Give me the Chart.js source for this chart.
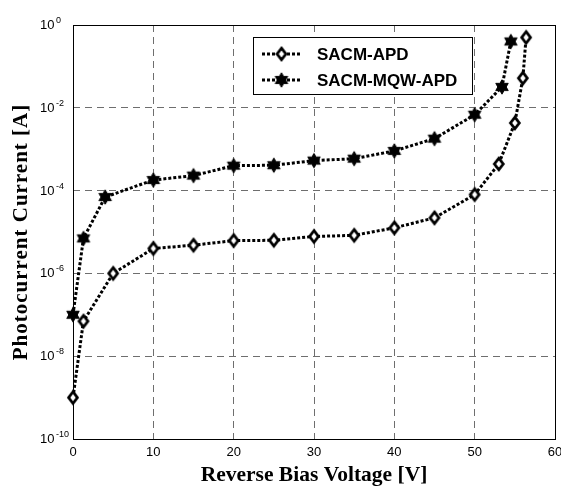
<!DOCTYPE html>
<html><head><meta charset="utf-8">
<script src="https://cdn.jsdelivr.net/npm/chart.js@4/dist/chart.umd.min.js"></script>
<style>html,body{margin:0;padding:0;background:#fff}#wrap{width:561px;height:488px;position:relative}</style>
</head><body><div id="wrap"><canvas id="c" width="561" height="488"></canvas></div>
<script>
// ---- data ----
const apdVoltage = [0, 1.3, 5, 10, 15, 20, 25, 30, 35, 40, 45, 50, 53, 55, 56, 56.4];
const apdCurrent = [1e-9, 7e-8, 1e-6, 4e-6, 4.8e-6, 6.2e-6, 6.3e-6, 7.8e-6, 8.3e-6, 1.26e-5, 2.2e-5, 8e-5, 4.4e-4, 4.3e-3, 5.2e-2, 0.5];
const mqwVoltage = [0, 1.3, 4, 10, 15, 20, 25, 30, 35, 40, 45, 50, 53.4, 54.5];
const mqwCurrent = [1e-7, 7e-6, 7e-5, 1.8e-4, 2.3e-4, 4e-4, 4.1e-4, 5.3e-4, 5.9e-4, 9.1e-4, 1.8e-3, 6.8e-3, 0.032, 0.4];
const seriesNames = ['SACM-APD', 'SACM-MQW-APD'];
const xTickValues = [0, 10, 20, 30, 40, 50, 60];
const yTickExponents = [0, -2, -4, -6, -8, -10];
const xAxisTitle = 'Reverse Bias Voltage [V]';
const yAxisTitle = 'Photocurrent Current [A]';

// ---- marker images ----
function makeDiamond() {
  const c = document.createElement('canvas'); c.width = 18; c.height = 22;
  const g = c.getContext('2d');
  g.beginPath(); g.moveTo(9, 5.2); g.lineTo(13.4, 11); g.lineTo(9, 16.8); g.lineTo(4.6, 11); g.closePath();
  g.fillStyle = '#fff'; g.fill(); g.lineWidth = 2.8; g.strokeStyle = '#000'; g.lineJoin = 'miter'; g.stroke();
  return c;
}
function makeHexagram() {
  const c = document.createElement('canvas'); c.width = 18; c.height = 18;
  const g = c.getContext('2d');
  const R = 7.2, r = R / Math.sqrt(3);
  g.beginPath();
  for (let k = 0; k < 12; k++) {
    const a = -Math.PI / 2 + k * Math.PI / 6;
    const rad = (k % 2 === 0) ? R : r;
    const px = 9 + rad * Math.cos(a), py = 9 + rad * Math.sin(a);
    if (k === 0) g.moveTo(px, py); else g.lineTo(px, py);
  }
  g.closePath(); g.fillStyle = '#000'; g.fill();
  g.lineWidth = 1; g.strokeStyle = '#000'; g.stroke();
  return c;
}
const diamondImg = makeDiamond();
const starImg = makeHexagram();
const markers = [diamondImg, starImg];

const SANS = '"Liberation Sans", Arial, sans-serif';
const SERIF = '"Liberation Serif", "Times New Roman", serif';

const frameAndLabels = {
  id: 'frameAndLabels',
  beforeDatasetsDraw(chart) {
    const {ctx, chartArea: a, scales} = chart;
    ctx.save();
    ctx.strokeStyle = '#000'; ctx.lineWidth = 1; ctx.setLineDash([]);
    ctx.strokeRect(Math.round(a.left) + 0.5, Math.round(a.top) + 0.5, Math.round(a.right - a.left), Math.round(a.bottom - a.top));
    ctx.fillStyle = '#000';
    yTickExponents.forEach(e => {
      const y = scales.y.getPixelForValue(Math.pow(10, e));
      ctx.font = '13px ' + SANS; ctx.textAlign = 'left'; ctx.textBaseline = 'middle';
      ctx.fillText('10', 40, y + 0.5);
      const w = ctx.measureText('10').width;
      ctx.font = '9px ' + SANS; ctx.textBaseline = 'alphabetic';
      ctx.fillText(String(e), 40 + w + 1.5, y - 2);
    });
    // y axis title with slight letter spacing
    ctx.save();
    ctx.translate(22, (a.top + a.bottom) / 2);
    ctx.rotate(-Math.PI / 2);
    ctx.font = 'bold 21px ' + SERIF;
    try { ctx.letterSpacing = '1px'; } catch (e) {}
    ctx.textAlign = 'center'; ctx.textBaseline = 'middle';
    ctx.fillText(yAxisTitle, 0, 0);
    ctx.restore();
    ctx.restore();
  },
  afterDraw(chart) {
    const {ctx} = chart;
    ctx.save();
    const bx = 253.5, by = 37.5, bw = 219, bh = 57;
    ctx.fillStyle = '#fff'; ctx.fillRect(bx, by, bw, bh);
    ctx.strokeStyle = '#000'; ctx.lineWidth = 1; ctx.strokeRect(bx, by, bw, bh);
    const rows = [54, 80];
    seriesNames.forEach((name, i) => {
      const y = rows[i];
      ctx.setLineDash([3, 2]); ctx.lineWidth = 3; ctx.strokeStyle = '#000';
      ctx.beginPath(); ctx.moveTo(262, y); ctx.lineTo(301, y); ctx.stroke();
      ctx.setLineDash([]);
      const m = markers[i];
      ctx.drawImage(m, 281.5 - m.width / 2, y - m.height / 2);
      ctx.fillStyle = '#000'; ctx.font = 'bold 17px ' + SANS;
      ctx.textAlign = 'left'; ctx.textBaseline = 'middle';
      ctx.fillText(name, 317, y + 1);
    });
    ctx.restore();
  }
};

new Chart(document.getElementById('c'), {
  type: 'line',
  data: {
    datasets: [
      {
        label: seriesNames[0],
        data: apdVoltage.map((v, i) => ({x: v, y: apdCurrent[i]})),
        borderColor: '#000', borderWidth: 3, borderDash: [3, 2], borderCapStyle: 'butt',
        pointStyle: diamondImg, pointRadius: 7, fill: false, tension: 0, clip: false
      },
      {
        label: seriesNames[1],
        data: mqwVoltage.map((v, i) => ({x: v, y: mqwCurrent[i]})),
        borderColor: '#000', borderWidth: 3, borderDash: [3, 2], borderCapStyle: 'butt',
        pointStyle: starImg, pointRadius: 7, fill: false, tension: 0, clip: false
      }
    ]
  },
  options: {
    responsive: false, animation: false, devicePixelRatio: 1,
    layout: {autoPadding: false, padding: {left: 0, right: 6, top: 25, bottom: 0}},
    plugins: {legend: {display: false}, tooltip: {enabled: false}},
    scales: {
      x: {
        type: 'linear', min: 0, max: 60,
        afterBuildTicks: s => { s.ticks = xTickValues.map(v => ({value: v})); },
        afterFit: s => { s.height = 49; s.paddingLeft = 0; s.paddingRight = 0; },
        ticks: {color: '#000', font: {family: SANS, size: 13}, padding: 6, maxRotation: 0, autoSkip: false},
        grid: {color: c => (c.tick && (c.tick.value === 0 || c.tick.value === 60)) ? 'rgba(0,0,0,0)' : '#6e6e6e', lineWidth: 1, drawTicks: false},
        border: {display: false, dash: [7, 5]},
        title: {display: true, text: xAxisTitle, color: '#000', font: {family: SERIF, size: 21.5, weight: 'bold'}, padding: {top: 0, bottom: 0}}
      },
      y: {
        type: 'logarithmic', min: 1e-10, max: 1,
        afterBuildTicks: s => { s.ticks = yTickExponents.map(e => ({value: Math.pow(10, e)})); },
        afterFit: s => { s.width = 73; s.paddingTop = 0; s.paddingBottom = 0; },
        ticks: {display: false},
        grid: {color: c => (c.tick && (c.tick.value === 1 || c.tick.value === 1e-10)) ? 'rgba(0,0,0,0)' : '#6e6e6e', lineWidth: 1, drawTicks: false},
        border: {display: false, dash: [7, 5]},
        title: {display: false, text: yAxisTitle}
      }
    }
  },
  plugins: [frameAndLabels]
});
</script></body></html>
